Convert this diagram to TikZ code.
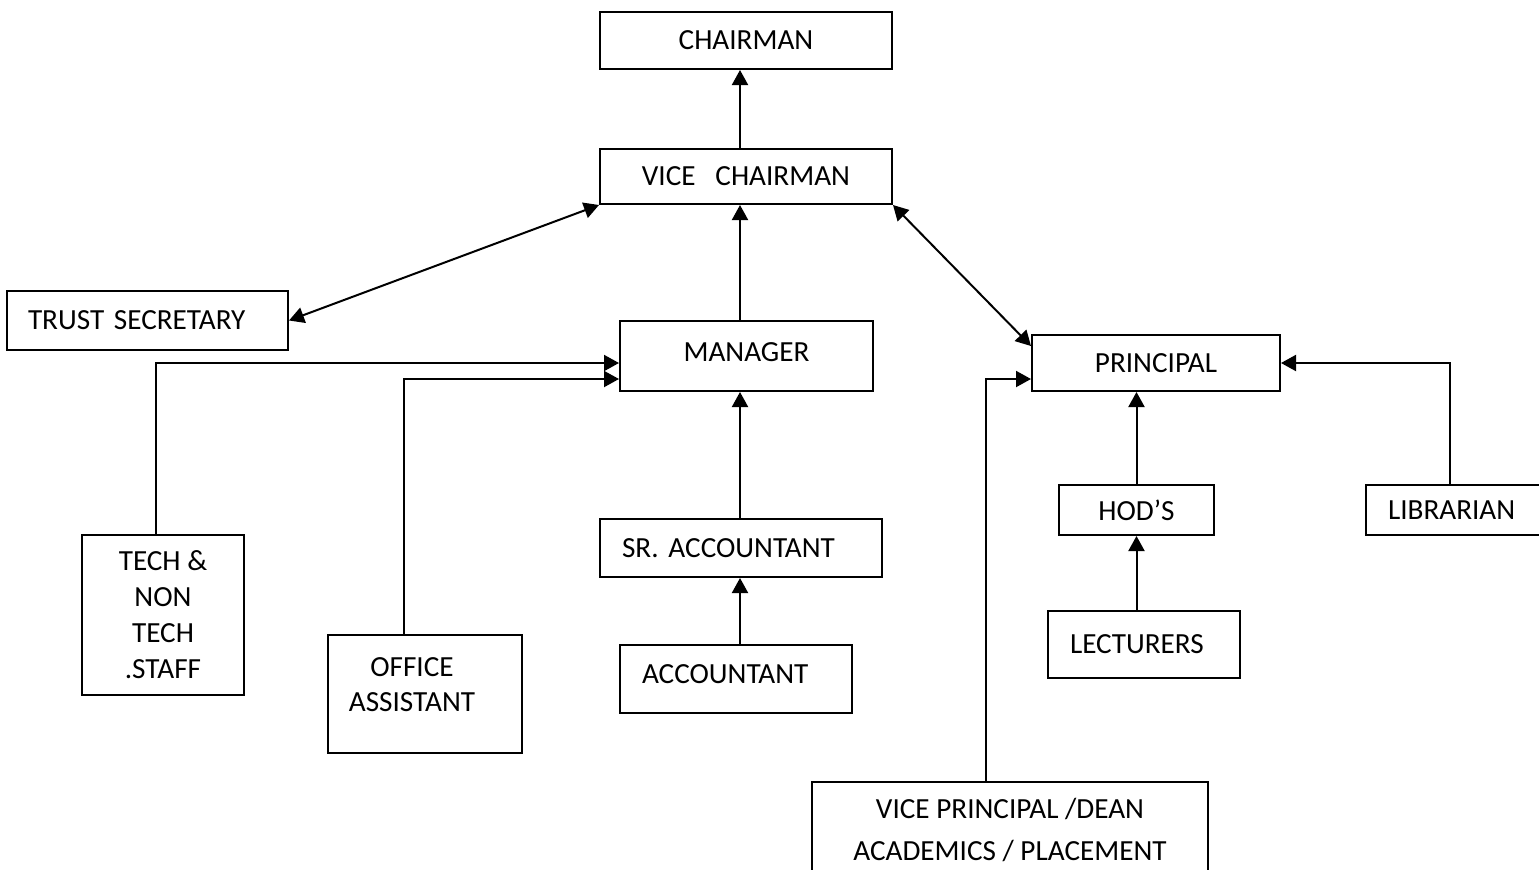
\documentclass[tikz,border=0pt]{standalone}
\usepackage{fontspec}
\setmainfont{Carlito}
\usetikzlibrary{arrows.meta,positioning}
\frenchspacing

\tikzset{
  txt/.style={font=\fontsize{14.6}{17.5}\selectfont},
  box/.style={txt, draw, line width=1pt, rectangle, inner sep=0pt},
  arr/.style={line width=1pt, -{Triangle[length=7.5pt,width=8pt]}},
  darr/.style={line width=1pt, {Triangle[length=7.5pt,width=8pt]}-{Triangle[length=7.5pt,width=8pt]}},
}

\begin{document}
\begin{tikzpicture}[x=0.5pt,y=-0.5pt]
  \useasboundingbox (0,0) rectangle (1539,869);

  % management line
  \node[box, minimum width=146pt, minimum height=28.5pt] (chair) at (746,40.5) {CHAIRMAN};
  \node[box, minimum width=146pt, minimum height=27.5pt] (vchair) at (746,176.5) {VICE\ \ \ CHAIRMAN};
  \node[box, minimum height=29.5pt, text width=119.5pt, inner xsep=10.5pt, align=left] (trust) at (147.5,320.5) {\mbox{TRUST SECRETARY}};
  \node[box, minimum width=126.5pt, minimum height=35pt, text depth=4pt] (manager) at (746.5,356) {MANAGER};
  \node[box, minimum height=29pt, text width=119pt, inner xsep=11pt, align=left] (sracc) at (741,548) {\mbox{SR. ACCOUNTANT}};
  \node[box, minimum height=34pt, text width=94pt, inner xsep=11pt, align=left, text depth=5pt] (acc) at (736,679) {ACCOUNTANT};
  \node[box, minimum width=81pt, minimum height=80pt, text depth=-1.5pt, align=center, font=\fontsize{14.6}{18}\selectfont] (tech) at (163,615) {TECH \&\\NON\\TECH\\.STAFF};
  \node[box, minimum width=97pt, minimum height=59pt,
        label={[txt, align=center, xshift=-6.5pt, yshift=4.5pt]center:OFFICE\\ASSISTANT}] (office) at (425,694) {};

  % academic side
  \node[box, minimum width=124pt, minimum height=28pt] (principal) at (1156,363) {PRINCIPAL};
  \node[box, minimum width=77.5pt, minimum height=25pt] (hod) at (1136.5,510) {HOD’S};
  \node[box, minimum height=33.5pt, text width=74pt, inner xsep=11pt, align=left] (lect) at (1144,644.5) {LECTURERS};
  \node[box, minimum height=25pt, text width=78pt, inner xsep=11pt, align=left] (lib) at (1466,510) {LIBRARIAN};
  \node[box, anchor=north, minimum width=198pt, inner ysep=8pt, align=center, font=\fontsize{14.6}{21}\selectfont] (vp) at (1010,781) {VICE PRINCIPAL /DEAN\\ACADEMICS / PLACEMENT};

  % arrows
  \coordinate (spine) at (740,0);
  \draw[arr] (vchair.north -| spine) -- (chair.south -| spine);
  \draw[arr] (manager.north -| spine) -- (vchair.south -| spine);
  \draw[arr] (sracc.north -| spine) -- (manager.south -| spine);
  \draw[arr] (acc.north -| spine) -- (sracc.south -| spine);
  \draw[darr] (trust.east) -- (vchair.south west);
  \draw[darr] (vchair.south east) -- ([yshift=-6pt]principal.north west);
  \draw[arr] ([xshift=-3.5pt]tech.north) |- ([yshift=-3.5pt]manager.west);
  \draw[arr] ([xshift=-10.5pt]office.north) |- ([yshift=-11.5pt]manager.west);
  \draw[arr] ([xshift=-12pt]vp.north) |- ([yshift=-8pt]principal.west);
  \draw[arr] (hod.north) -- (hod.north |- principal.south);
  \draw[arr] (lect.north -| hod) -- (hod.south);
  \draw[arr] ([xshift=-8pt]lib.north) |- (principal.east);
\end{tikzpicture}
\end{document}
